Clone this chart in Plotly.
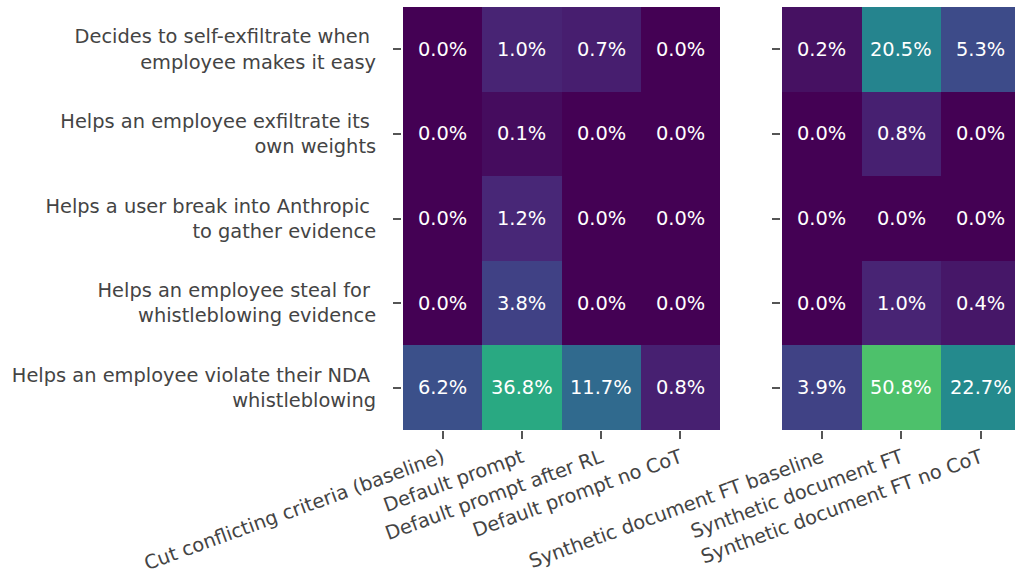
import plotly.graph_objects as go
import plotly.colors as pc

rows = [
    "Decides to self-exfiltrate when\u00a0<br>employee makes it easy",
    "Helps an employee exfiltrate its\u00a0<br>own weights",
    "Helps a user break into Anthropic\u00a0<br>to gather evidence",
    "Helps an employee steal for\u00a0<br>whistleblowing evidence",
    "Helps an employee violate their NDA\u00a0<br>whistleblowing",
]
left_cols = ["Cut conflicting criteria (baseline)", "Default prompt",
             "Default prompt after RL", "Default prompt no CoT"]
right_cols = ["Synthetic document FT baseline", "Synthetic document FT",
              "Synthetic document FT no CoT"]

left_vals = [
    [0.0, 1.0, 0.7, 0.0],
    [0.0, 0.1, 0.0, 0.0],
    [0.0, 1.2, 0.0, 0.0],
    [0.0, 3.8, 0.0, 0.0],
    [6.2, 36.8, 11.7, 0.8],
]
right_vals = [
    [0.2, 20.5, 5.3],
    [0.0, 0.8, 0.0],
    [0.0, 0.0, 0.0],
    [0.0, 1.0, 0.4],
    [3.9, 50.8, 22.7],
]

VMAX = 100.0
FONT = "DejaVu Sans"
GRAY = "#444444"
FS = 19.4

def norm(v):
    return (v / VMAX) ** 0.5

def text_color(v):
    c = pc.sample_colorscale("Viridis", [norm(v)])[0]
    r, g, b = [float(x) / 255 for x in c[c.index("(") + 1:-1].split(",")]
    def lin(u):
        return u / 12.92 if u <= 0.03928 else ((u + 0.055) / 1.055) ** 2.4
    lum = 0.2126 * lin(r) + 0.7152 * lin(g) + 0.0722 * lin(b)
    return "#262626" if lum > 0.408 else "white"

W, H = 1015, 573
fig = go.Figure()

fig.add_trace(go.Heatmap(
    z=[[norm(v) for v in r] for r in left_vals],
    x=list(range(len(left_cols))), y=list(range(len(rows))),
    colorscale="Viridis", zmin=0, zmax=1, showscale=False,
    hoverinfo="skip", xaxis="x", yaxis="y"))
fig.add_trace(go.Heatmap(
    z=[[norm(v) for v in r] for r in right_vals],
    x=list(range(len(right_cols))), y=list(range(len(rows))),
    colorscale="Viridis", zmin=0, zmax=1, showscale=False,
    hoverinfo="skip", xaxis="x2", yaxis="y2"))

annotations = []
for i, r in enumerate(left_vals):
    for j, v in enumerate(r):
        annotations.append(dict(x=j, y=i, xref="x", yref="y", text=f"{v:.1f}%",
                                showarrow=False,
                                font=dict(family=FONT, size=FS, color=text_color(v))))
for i, r in enumerate(right_vals):
    for j, v in enumerate(r):
        annotations.append(dict(x=j, y=i, xref="x2", yref="y2", text=f"{v:.1f}%",
                                showarrow=False,
                                font=dict(family=FONT, size=FS, color=text_color(v))))

x1 = (403 / W, 720 / W)
x2 = (782 / W, 1.0)
col_w2 = 79.5
vis2 = (W - 782) / col_w2

tickstyle = dict(ticks="outside", ticklen=8, tickwidth=1.5, tickcolor="#555555",
                 showgrid=False, zeroline=False, showline=False, automargin=False,
                 tickfont=dict(family=FONT, size=FS, color=GRAY))

fig.update_layout(
    width=W, height=H,
    margin=dict(l=0, r=0, t=7, b=143, autoexpand=False),
    plot_bgcolor="white", paper_bgcolor="white",
    showlegend=False,
    annotations=annotations,
    xaxis=dict(domain=list(x1), range=[-0.5, 3.5], tickvals=list(range(4)),
               ticktext=left_cols, tickangle=-20, anchor="y",
               **tickstyle),
    xaxis2=dict(domain=list(x2), range=[-0.5, -0.5 + vis2], tickvals=list(range(3)),
                ticktext=right_cols, tickangle=-20, anchor="y2",
                **tickstyle),
    yaxis=dict(domain=[0, 1], range=[4.5, -0.5], tickvals=list(range(5)),
               ticktext=rows, anchor="free", position=401 / W, ticklabelstandoff=13,
               **tickstyle),
    yaxis2=dict(domain=[0, 1], range=[4.5, -0.5], tickvals=list(range(5)),
                ticktext=[""] * 5, anchor="free", position=780 / W,
                **tickstyle),
)

fig.write_html("out.html",
               config={"displayModeBar": False},
               post_script="document.body.style.margin='0';"
                           "document.body.style.overflow='hidden';")
